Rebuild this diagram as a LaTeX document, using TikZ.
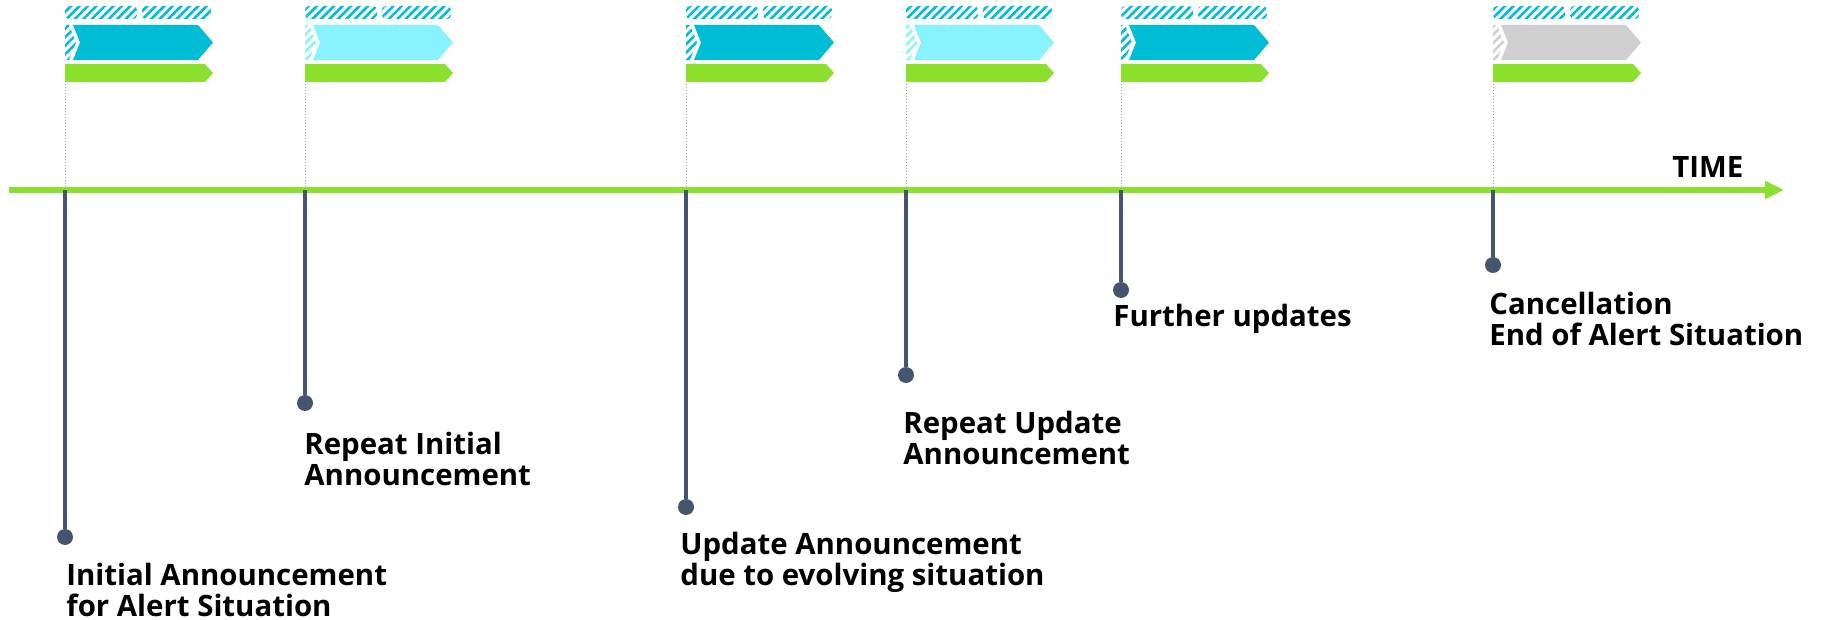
\documentclass[tikz,border=0pt]{standalone}
\usepackage{fontspec}
\setmainfont{Open Sans}
\usetikzlibrary{arrows.meta,patterns.meta}

\definecolor{flagcyan}{HTML}{00BCD4}
\definecolor{flaglight}{HTML}{88F3FF}
\definecolor{flaggrey}{HTML}{CFCFCF}
\definecolor{timegreen}{HTML}{8AE02C}
\definecolor{stemslate}{HTML}{45556E}

\tikzset{
	hatch/.style={pattern={Lines[angle=45,distance=3pt,line width=1.3pt]}, pattern color=#1},
	stem/.style={stemslate, line width=1.6pt},
	dot/.style={circle, fill=stemslate, inner sep=0pt, minimum size=8pt},
	label/.style={anchor=north west, inner sep=0pt, align=left, font=\fontsize{14.7}{15.6}\selectfont\bfseries}
}

\begin{document}
\begin{tikzpicture}[x=0.5pt, y=-0.5pt]
		\useasboundingbox (0,0) rectangle (1822,620);

		\foreach \x/\c in {65/flagcyan, 305/flaglight, 686/flagcyan, 906/flaglight, 1121/flagcyan, 1493/flaggrey} {
			\fill[hatch=flagcyan, rounded corners=2] (\x,6) rectangle ({\x+72},19);
			\fill[hatch=flagcyan, rounded corners=2] ({\x+77},6) rectangle ({\x+146},19);
			\fill[hatch=\c] (\x,25) -- ({\x+4},25) -- ({\x+11},42.5) -- ({\x+4},60) -- (\x,60) -- cycle;
			\fill[\c] ({\x+8},25) -- ({\x+133},25) -- ({\x+148},42.5) -- ({\x+133},60) -- ({\x+8},60) -- ({\x+15},42.5) -- cycle;
			\fill[timegreen] (\x,64) -- ({\x+140},64) -- ({\x+148},73) -- ({\x+140},82) -- (\x,82) -- cycle;
			\draw[gray!70, line width=0.5pt, densely dotted] (\x,84) -- (\x,188);
		}

		\coordinate (start) at (9,190);
		\coordinate (end) at (1784,190);
		\draw[timegreen, line width=2.75pt, -{Triangle[length=9.5pt,width=8.5pt]}] (start) -- (end);
		\node[anchor=base west, inner sep=0pt, font=\fontsize{14.7}{15.6}\selectfont\bfseries] (time) at (1672,178) {TIME};

		\coordinate (t1) at (65,190);
		\coordinate (t2) at (305,190);
		\coordinate (t3) at (686,190);
		\coordinate (t4) at (906,190);
		\coordinate (t5) at (1121,190);
		\coordinate (t6) at (1493,190);

		\node[dot] (d1) at (65,537) {};
		\node[dot] (d2) at (305,403) {};
		\node[dot] (d3) at (686,507) {};
		\node[dot] (d4) at (906,375) {};
		\node[dot] (d5) at (1121,290) {};
		\node[dot] (d6) at (1493,265) {};

		\draw[stem] (t1) -- (d1);
		\draw[stem] (t2) -- (d2);
		\draw[stem] (t3) -- (d3);
		\draw[stem] (t4) -- (d4);
		\draw[stem] (t5) -- (d5);
		\draw[stem] (t6) -- (d6);

		\node[label] (l1) at (66,563) {Initial Announcement\\for Alert Situation};
		\node[label] (l2) at (304,432) {Repeat Initial\\Announcement};
		\node[label] (l3) at (680,532) {Update Announcement\\due to evolving situation};
		\node[label] (l4) at (903,411) {Repeat Update\\Announcement};
		\node[label] (l5) at (1113,304) {Further updates};
		\node[label] (l6) at (1489,292) {Cancellation\\End of Alert Situation};
	\end{tikzpicture}
\end{document}
